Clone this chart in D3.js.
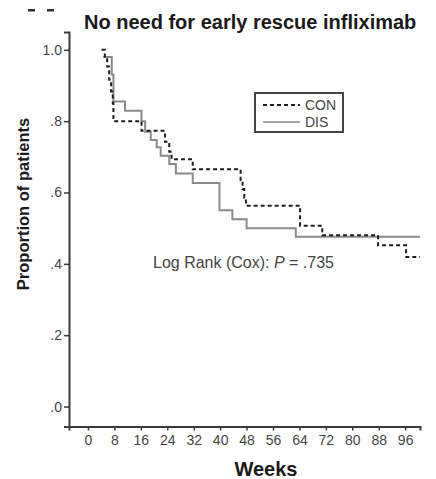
<!DOCTYPE html>
<html>
<head>
<meta charset="utf-8">
<script src="https://cdn.jsdelivr.net/npm/d3@7"></script>
<style>
  body { margin: 0; background: #fff; }
  text { font-family: "Liberation Sans", Arial, Helvetica, sans-serif; }
</style>
</head>
<body>
<div id="chart"></div>
<script>
// Kaplan-Meier curves (weeks, proportion)
var conWeeks = [4.1, 5.1, 5.8, 6.4, 7.0, 7.5, 7.7, 16.2, 23.3, 24.6, 25.3, 31.7, 46.2, 46.8, 47.3, 47.8, 64.2, 70.9, 87.8, 96.3, 100.5];
var conSurv  = [1.0, 0.977, 0.953, 0.916, 0.883, 0.85, 0.80, 0.773, 0.742, 0.714, 0.693, 0.665, 0.635, 0.61, 0.585, 0.563, 0.507, 0.48, 0.452, 0.419, 0.419];

var disWeeks = [4.6, 7.2, 7.7, 11.2, 16.2, 17.3, 19.0, 20.8, 22.0, 24.6, 26.6, 31.7, 39.8, 43.7, 48.0, 62.9, 100.5];
var disSurv  = [0.98, 0.93, 0.855, 0.829, 0.80, 0.77, 0.747, 0.727, 0.703, 0.68, 0.653, 0.627, 0.55, 0.525, 0.50, 0.476, 0.476];

var xTicks = [0, 8, 16, 24, 32, 40, 48, 56, 64, 72, 80, 88, 96];
var yTicks = [0, 0.2, 0.4, 0.6, 0.8, 1.0];
var yTickLabels = ['.0', '.2', '.4', '.6', '.8', '1.0'];

var seriesNames = ['CON', 'DIS'];

var width = 436,
    height = 479,
    axisColor = '#3a3a3a',
    textColor = '#444';

var svg = d3.select('#chart')
  .append('svg')
    .attr('width', width)
    .attr('height', height);

var x = d3.scaleLinear().domain([-5.75, 100.5]).range([69, 420]);
var y = d3.scaleLinear().domain([-0.056, 1.05]).range([426.5, 32]);

// cropped panel letter remnant, top left
svg.selectAll('rect.crumb')
  .data([28, 47])
  .enter().append('rect')
    .classed('crumb', true)
    .attr('x', function (d) { return d; })
    .attr('y', 9)
    .attr('width', 7)
    .attr('height', 2.5)
    .attr('fill', '#333');

svg.append('text')
  .attr('x', 84)
  .attr('y', 28.5)
  .style('font-size', '20px')
  .style('font-weight', 'bold')
  .style('fill', '#1a1a1a')
  .text('No need for early rescue infliximab');

var yAxis = svg.append('g')
  .attr('transform', 'translate(69,0)')
  .call(d3.axisLeft(y)
    .tickValues(yTicks)
    .tickFormat(function (d, i) { return yTickLabels[i]; })
    .tickSizeOuter(0)
    .tickSize(5)
    .tickPadding(2));

var xAxis = svg.append('g')
  .attr('transform', 'translate(0,426.5)')
  .call(d3.axisBottom(x)
    .tickValues(xTicks)
    .tickSizeOuter(0)
    .tickSize(4)
    .tickPadding(5));

[yAxis, xAxis].forEach(function (ax) {
  ax.select('.domain')
    .attr('stroke', axisColor)
    .attr('stroke-width', 2);
  ax.selectAll('.tick line')
    .attr('stroke', axisColor)
    .attr('stroke-width', 1.5);
  ax.selectAll('.tick text')
    .attr('fill', textColor)
    .style('font-size', '14px')
    .style('font-family', '"Liberation Sans", Arial, sans-serif');
});

svg.append('text')
  .attr('transform', 'translate(29,204) rotate(-90)')
  .attr('text-anchor', 'middle')
  .style('font-size', '16.5px')
  .style('font-weight', 'bold')
  .style('fill', '#1a1a1a')
  .text('Proportion of patients');

svg.append('text')
  .attr('x', 266)
  .attr('y', 476)
  .attr('text-anchor', 'middle')
  .style('font-size', '20px')
  .style('font-weight', 'bold')
  .style('fill', '#1a1a1a')
  .text('Weeks');

var line = d3.line()
  .x(function (d) { return x(d[0]); })
  .y(function (d) { return y(d[1]); })
  .curve(d3.curveStepAfter);

var disData = d3.zip(disWeeks, disSurv);
var conData = d3.zip(conWeeks, conSurv);

svg.append('path')
  .datum(disData)
  .attr('d', line)
  .attr('fill', 'none')
  .attr('stroke', '#8a8a8a')
  .attr('stroke-width', 2);

svg.append('path')
  .datum(conData)
  .attr('d', line)
  .attr('fill', 'none')
  .attr('stroke', '#1e1e1e')
  .attr('stroke-width', 2)
  .attr('stroke-dasharray', '4,3');

// legend
var legend = svg.append('g');
legend.append('rect')
  .attr('x', 255)
  .attr('y', 93)
  .attr('width', 88)
  .attr('height', 39)
  .attr('fill', 'none')
  .attr('stroke', '#444')
  .attr('stroke-width', 2);

var legendItem = legend.selectAll('g.item')
  .data(seriesNames)
  .enter().append('g')
    .classed('item', true)
    .attr('transform', function (d, i) { return 'translate(0,' + (105 + i * 17) + ')'; });

legendItem.append('line')
  .attr('x1', 263)
  .attr('x2', 300)
  .attr('stroke', function (d, i) { return i === 0 ? '#1e1e1e' : '#8a8a8a'; })
  .attr('stroke-width', function (d, i) { return i === 0 ? 2 : 1.5; })
  .attr('stroke-dasharray', function (d, i) { return i === 0 ? '4,3' : null; });

legendItem.append('text')
  .attr('x', 305)
  .attr('y', 5)
  .style('font-size', '14px')
  .style('fill', textColor)
  .text(function (d) { return d; });

var note = svg.append('text')
  .attr('x', 153)
  .attr('y', 268)
  .style('font-size', '16px')
  .style('fill', textColor);
note.append('tspan').text('Log Rank (Cox): ');
note.append('tspan').style('font-style', 'italic').text('P');
note.append('tspan').text(' = .735');
</script>
</body>
</html>
